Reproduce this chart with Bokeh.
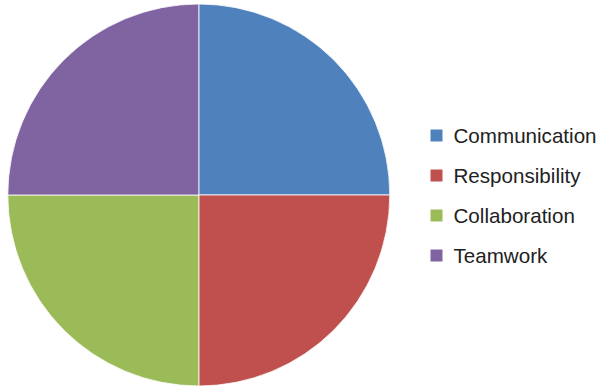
import numpy as np
from bokeh.plotting import figure
from bokeh.models import Range1d, ColumnDataSource
from bokeh.core.properties import value
from bokeh.embed import file_html
from bokeh.resources import INLINE

categories = ["Communication", "Responsibility", "Collaboration", "Teamwork"]
values = [25, 25, 25, 25]
colors = ["#4F81BD", "#C0504D", "#9BBB59", "#8064A2"]

W, H = 601, 389
p = figure(width=W, height=H, output_backend="svg", toolbar_location=None,
           x_range=Range1d(0, W), y_range=Range1d(0, H), min_border=0,
           outline_line_color=None)
p.axis.visible = False
p.grid.visible = False
p.background_fill_color = "white"
p.border_fill_color = "white"

vals = np.array(values, dtype=float)
frac = vals / vals.sum()
cum_end = np.cumsum(frac) * 2 * np.pi
cum_start = cum_end - frac * 2 * np.pi
src = ColumnDataSource(dict(
    cat=categories, color=colors,
    start=np.pi / 2 - cum_end, end=np.pi / 2 - cum_start,
))
cx, cy, r = 198.3, 194.5, 191
p.wedge(x=cx, y=cy, radius=r, start_angle="start", end_angle="end",
        fill_color="color", line_color="white", line_width=0.8, source=src)

# legend
lx, ly0, dy = 436, 254, 40
ys = [ly0 - i * dy for i in range(len(categories))]
leg = ColumnDataSource(dict(x=[lx] * len(categories), tx=[453] * len(categories),
                            y=ys, cat=categories, color=colors))
p.scatter(x="x", y="y", marker="square", size=12, fill_color="color",
          line_color=None, source=leg)
p.text(x="tx", y="y", text="cat", text_baseline="middle", text_align="left",
       text_font=value("Liberation Sans"), text_font_size="20.6px",
       text_color="#222222", source=leg)

open("out.html", "w").write(file_html(p, INLINE))
